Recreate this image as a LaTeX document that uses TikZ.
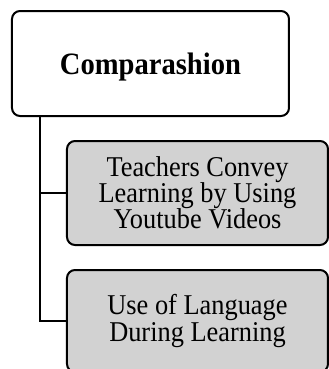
\documentclass[tikz,border=0pt]{standalone}
\usepackage{fontspec}
\setmainfont[FakeStretch=0.92]{Liberation Serif}
\begin{document}
\begin{tikzpicture}[x=0.75pt,y=-0.75pt,
  box/.style={draw=black, line width=1.5pt, rounded corners=6pt, align=center,
    inner sep=0pt, outer sep=0pt},
  topbox/.style={box, fill=white, minimum width=277*0.75pt, minimum height=105*0.75pt,
    text depth=0pt, font=\fontsize{23.3}{26}\selectfont\bfseries},
  subbox/.style={box, fill=gray!35, minimum width=261*0.75pt,
    font=\fontsize{21.5}{19.6}\selectfont},
  link/.style={draw=black, line width=1.5pt}]
  \useasboundingbox (0,0) rectangle (329,369);
  \begin{scope}
    \clip (0,0) rectangle (329,369);
    \node[topbox] (root) at (150.5,63.5) {Comparashion};
    \node[subbox, minimum height=104*0.75pt] (c1) at (197.5,193)
      {Teachers Convey\\Learning by Using\\Youtube Videos};
    \node[subbox, minimum height=102*0.75pt] (c2) at (197.5,321)
      {Use of Language\\During Learning};
    \coordinate (trunk) at (40,0);
    \draw[link] (trunk |- root.south) |- (c2.west);
    \draw[link] (trunk |- c1.west) -- (c1.west);
  \end{scope}
\end{tikzpicture}
\end{document}
